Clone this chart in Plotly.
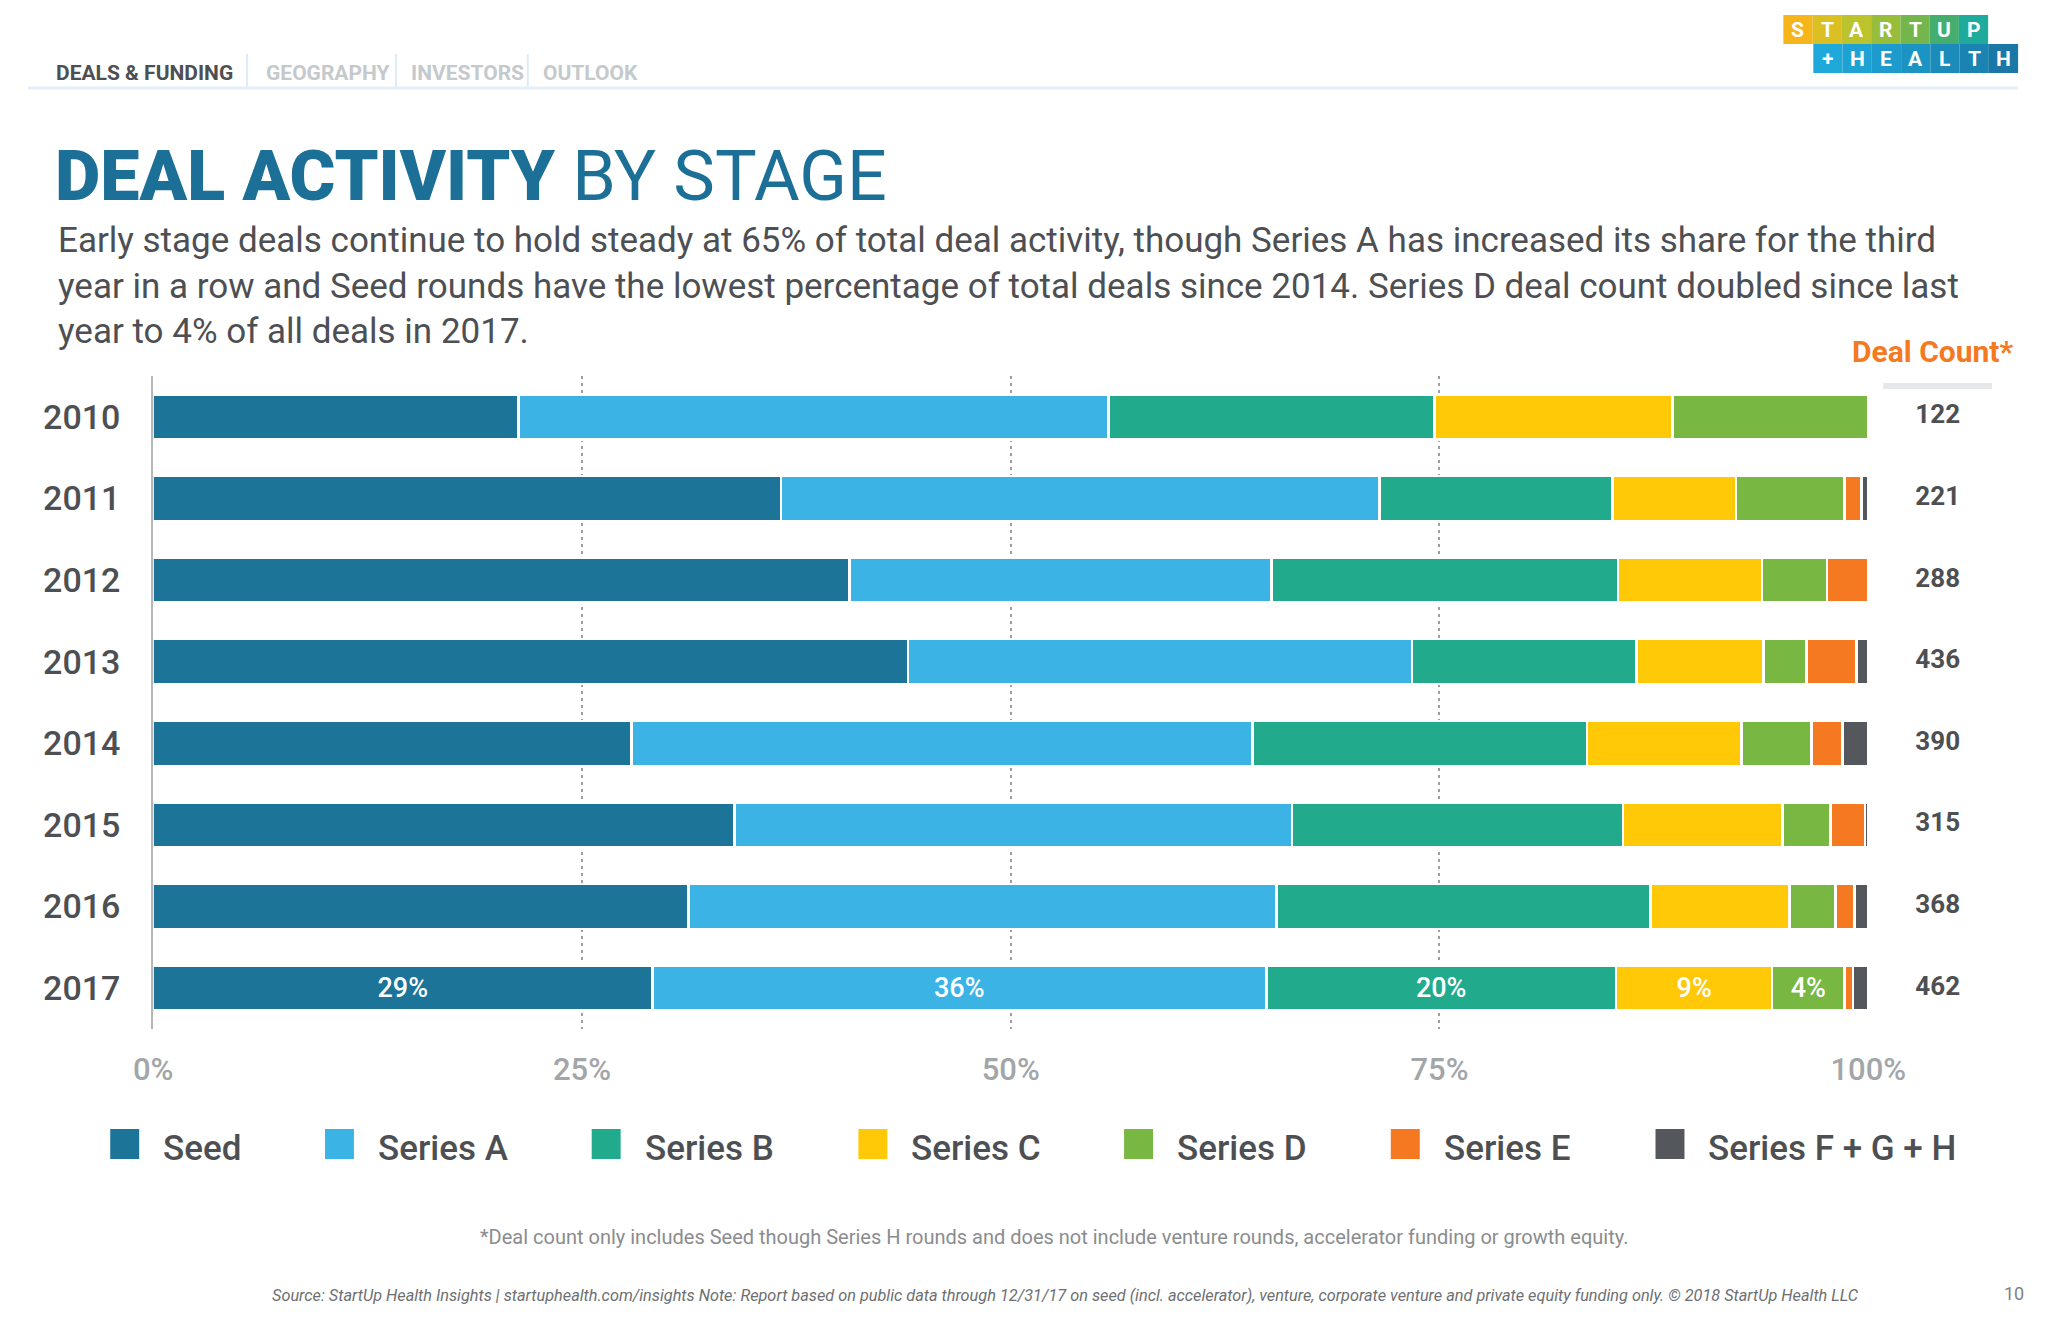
import plotly.graph_objects as go

# ---------------- data ----------------
years = ["2010", "2011", "2012", "2013", "2014", "2015", "2016", "2017"]
stages = ["Seed", "Series A", "Series B", "Series C", "Series D", "Series E", "Series F + G + H"]
seed = [21.3, 36.6, 40.6, 44.0, 27.9, 33.9, 31.2, 29.1]
series_a = [34.4, 34.9, 24.6, 29.4, 36.2, 32.5, 34.3, 35.8]
series_b = [19.0, 13.6, 20.2, 13.1, 19.5, 19.3, 21.8, 20.4]
series_c = [13.9, 7.2, 8.4, 7.4, 9.0, 9.3, 8.1, 9.1]
series_d = [11.4, 6.3, 3.8, 2.5, 4.1, 2.8, 2.7, 4.2]
series_e = [0.0, 1.0, 2.4, 2.9, 1.8, 2.0, 1.1, 0.5]
series_fgh = [0.0, 0.4, 0.0, 0.7, 1.5, 0.2, 0.8, 0.9]
deal_counts = [122, 221, 288, 436, 390, 315, 368, 462]
x_tick_vals = [0, 25, 50, 75, 100]
x_tick_labels = ["0%", "25%", "50%", "75%", "100%"]
nav_items = ["DEALS & FUNDING", "GEOGRAPHY", "INVESTORS", "OUTLOOK"]
logo_row1 = ["S", "T", "A", "R", "T", "U", "P"]
logo_row2 = ["+", "H", "E", "A", "L", "T", "H"]
subtitle_lines = [
    "Early stage deals continue to hold steady at 65% of total deal activity, though Series A has increased its share for the third",
    "year in a row and Seed rounds have the lowest percentage of total deals since 2014. Series D deal count doubled since last",
    "year to 4% of all deals in 2017.",
]

# ---------------- styles / layout helpers ----------------
W, H = 2048, 1325
def px(x):
    return (1.028 * x - 26.4) / W
def py(y):
    return 1 - (y - 6) / H

colors = ["#1c7499", "#3bb4e5", "#21ab8c", "#ffc907", "#79b743", "#f47921", "#54575b"]
series_values = [seed, series_a, series_b, series_c, series_d, series_e, series_fgh]
DARK = "#4d4f53"
FONT = "Roboto"

fig = go.Figure()

last = len(years) - 1
for name, vals, col in zip(stages, series_values, colors):
    labels = ["" for _ in vals]
    if vals[last] >= 3:
        labels[last] = f"{round(vals[last])}%"
    fig.add_trace(go.Bar(
        y=years, x=vals, name=name, orientation="h",
        marker=dict(color=col, line=dict(color="white", width=2.5)),
        text=labels, textposition="inside", insidetextanchor="middle",
        textfont=dict(color="white", size=27, family=FONT, weight=500),
        showlegend=False, hoverinfo="x+y+name",
    ))

# deal count column (own x axis sharing the year axis)
fig.add_trace(go.Scatter(
    x=[0.5] * len(years), y=years, xaxis="x2", yaxis="y", mode="text",
    text=[str(c) for c in deal_counts], textposition="middle center",
    textfont=dict(family=FONT, size=26, color=DARK, weight=700),
    showlegend=False, hoverinfo="skip", cliponaxis=False,
))

annotations = []
shapes = []

annotations.append(dict(x=px(2015), xref="paper", y=py(349), yref="paper", text="Deal Count*",
                        showarrow=False, xanchor="right", yanchor="middle",
                        font=dict(family=FONT, size=30, color="#f47921", weight=700)))
shapes.append(dict(type="rect", xref="paper", yref="paper", x0=px(1883), x1=px(1992),
                   y0=py(387), y1=py(381), fillcolor="#e6e7e8", line=dict(width=0)))

# title & subtitle
annotations.append(dict(x=px(51), xref="paper", y=py(174), yref="paper",
                        text="<span style='font-weight:900'>DEAL ACTIVITY</span> BY STAGE",
                        showarrow=False, xanchor="left", yanchor="middle",
                        font=dict(family=FONT, size=70, color="#1c6f96", weight=400)))
annotations.append(dict(x=px(54), xref="paper", y=py(284), yref="paper",
                        text="<br>".join(subtitle_lines),
                        showarrow=False, xanchor="left", yanchor="middle", align="left",
                        font=dict(family=FONT, size=35, color=DARK)))

# navigation
nav_x = [52, 262, 407, 539]
nav_sep = [245, 394, 526]
for i, (item, x) in enumerate(zip(nav_items, nav_x)):
    annotations.append(dict(x=px(x), xref="paper", y=py(71), yref="paper", text=item,
                            showarrow=False, xanchor="left", yanchor="middle",
                            font=dict(family=FONT, size=21, weight=700,
                                      color=DARK if i == 0 else "#c4c9cc")))
for x in nav_sep:
    shapes.append(dict(type="line", xref="paper", yref="paper", x0=px(x), x1=px(x),
                       y0=py(52), y1=py(86), line=dict(color="#dcecf7", width=2)))
shapes.append(dict(type="line", xref="paper", yref="paper", x0=0, x1=1,
                   y0=py(86), y1=py(86), line=dict(color="#e3f0f9", width=3)))

# logo
row1_cols = ["#f6b51a", "#dcbf22", "#bcc32c", "#98bd3b", "#74b64c", "#45ae6f", "#1fab9c"]
row2_cols = ["#1fa8da", "#1ea2d4", "#1d9bcc", "#1c94c3", "#1b8cba", "#1a83b1", "#1a77a6"]
bw = (1988 - 1783) / 7
for i, (ch, c) in enumerate(zip(logo_row1, row1_cols)):
    x0 = 1783 + i * bw
    shapes.append(dict(type="rect", xref="paper", yref="paper", x0=px(x0), x1=px(x0 + bw),
                       y0=py(42), y1=py(13), fillcolor=c, line=dict(width=0)))
    annotations.append(dict(x=px(x0 + bw / 2), xref="paper", y=py(27.5), yref="paper", text=ch,
                            showarrow=False, xanchor="center", yanchor="middle",
                            font=dict(family=FONT, size=21, color="white", weight=700)))
for i, (ch, c) in enumerate(zip(logo_row2, row2_cols)):
    x0 = 1813 + i * bw
    shapes.append(dict(type="rect", xref="paper", yref="paper", x0=px(x0), x1=px(x0 + bw),
                       y0=py(71), y1=py(42), fillcolor=c, line=dict(width=0)))
    annotations.append(dict(x=px(x0 + bw / 2), xref="paper", y=py(56.5), yref="paper", text=ch,
                            showarrow=False, xanchor="center", yanchor="middle",
                            font=dict(family=FONT, size=21, color="white", weight=700)))

# custom legend
leg_x = [108, 323, 590, 857, 1123, 1390, 1655]
for name, col, x in zip(stages, colors, leg_x):
    shapes.append(dict(type="rect", xref="paper", yref="paper", x0=px(x), x1=px(x + 29),
                       y0=py(1157), y1=py(1127), fillcolor=col, line=dict(width=0)))
    annotations.append(dict(x=px(x + 51), xref="paper", y=py(1146), yref="paper", text=name,
                            showarrow=False, xanchor="left", yanchor="middle",
                            font=dict(family=FONT, size=35, color=DARK, weight=500)))

# footnotes
annotations.append(dict(x=px(1053), xref="paper", y=py(1235), yref="paper",
                        text="*Deal count only includes Seed though Series H rounds and does not include venture rounds, accelerator funding or growth equity.",
                        showarrow=False, xanchor="center", yanchor="middle",
                        font=dict(family=FONT, size=20, color="#8a8c8f")))
annotations.append(dict(x=px(1064), xref="paper", y=py(1293), yref="paper",
                        text="Source: StartUp Health Insights | startuphealth.com/insights Note: Report based on public data through 12/31/17 on seed (incl. accelerator), venture, corporate venture and private equity funding only. © 2018 StartUp Health LLC",
                        showarrow=False, xanchor="center", yanchor="middle",
                        font=dict(family=FONT, size=16.3, color="#6d6f72", style="italic")))
annotations.append(dict(x=px(2014), xref="paper", y=py(1291), yref="paper", text="10",
                        showarrow=False, xanchor="center", yanchor="middle",
                        font=dict(family=FONT, size=18, color="#808285")))

fig.update_layout(
    width=W, height=H,
    barmode="stack", bargap=0.45,
    paper_bgcolor="white", plot_bgcolor="white",
    margin=dict(l=0, r=0, t=0, b=0),
    showlegend=False,
    annotations=annotations, shapes=shapes,
    xaxis=dict(domain=[px(151), px(1868)], range=[0, 100],
               tickvals=x_tick_vals, ticktext=x_tick_labels,
               showgrid=True, gridcolor="#9d9fa2", griddash="3px,4px", gridwidth=1.5,
               zeroline=False, showline=False, ticks="", ticklabelstandoff=19,
               tickfont=dict(family=FONT, size=31, color="#a3a6a9", weight=500)),
    xaxis2=dict(domain=[px(1890), px(1985)], range=[0, 1], anchor="y",
                visible=False, showgrid=False, zeroline=False),
    yaxis=dict(domain=[py(1027), py(374)], type="category",
               categoryorder="array", categoryarray=years,
               range=[7.5, -0.5], showgrid=False, zeroline=False,
               showline=True, linecolor="#b5b7b9", linewidth=2, ticks="",
               ticklabelstandoff=24,
               tickfont=dict(family=FONT, size=34, color=DARK, weight=500)),
)

fig.write_html("out.html")
